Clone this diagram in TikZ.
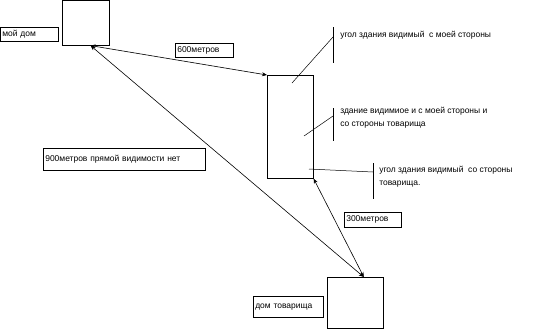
\documentclass[tikz,border=0pt]{standalone}
\usepackage{fontspec}
\setmainfont{Liberation Sans}
\usetikzlibrary{arrows.meta,calc}
\begin{document}
\begin{tikzpicture}[x=1bp,y=-1bp, line width=0.6pt,
  square/.style={draw, anchor=north west, inner sep=0pt},
  lbl/.style={draw, anchor=north west, inner xsep=2bp, inner ysep=0pt, align=left,
    font=\fontsize{8.5}{12}\selectfont},
  note/.style={align=left, inner sep=0pt, font=\fontsize{8.5}{12.5}\selectfont},
  dist/.style={{Stealth[length=5pt,width=4pt]}-{Stealth[length=5pt,width=4pt]}},
  thin/.style={line width=0.5pt}]
\useasboundingbox (0,0) rectangle (541,329);
% houses and building
\node[square, minimum width=47bp, minimum height=45bp] (myhouse) at (62,0) {};
\node[square, minimum width=46bp, minimum height=103bp] (bldg) at (267,75) {};
\node[square, minimum width=56bp, minimum height=51bp] (friend) at (327,277) {};
% label boxes
\node[lbl, text width=54bp, minimum height=14bp] (lmy) at (0,27) {мой дом};
\node[lbl, text width=54bp, minimum height=14bp] (l600) at (175,43) {600метров};
\node[lbl, text width=158bp, minimum height=22bp] (l900) at (43,148) {900метров прямой видимости нет};
\node[lbl, text width=53bp, minimum height=15bp] (l300) at (344,212) {300метров};
\node[lbl, text width=66bp, minimum height=21bp] (lfr) at (253,296) {дом товарища};
% distance connectors
\coordinate (pm) at ($(myhouse.south west)!0.6!(myhouse.south east)$);
\coordinate (pf) at ($(friend.north west)!0.65!(friend.north east)$);
\draw[dist] (pm) -- (bldg.north west);
\draw[dist] (pm) -- (pf);
\draw[dist] (bldg.south east) -- (pf);
% callouts
\node[note, anchor=west] (n1) at (340,35) {угол здания видимый \ с моей стороны};
\node[note, anchor=north west] (n2) at (340,107) {здание видимиое и с моей стороны и\\со стороны товарища};
\node[note, anchor=north west] (n3) at (379,166) {угол здания видимый \ со стороны\\товарища.};
\coordinate (b1t) at (333,27); \coordinate (b1b) at (333,63);
\coordinate (b2t) at (333,108); \coordinate (b2b) at (333,141);
\coordinate (b3t) at (373,163); \coordinate (b3b) at (373,199);
\draw[thin] (b1t) -- (b1b);
\draw[thin] (292,83) -- (333,37);
\draw[thin] (b2t) -- (b2b);
\draw[thin] (304,136) -- (333,116);
\draw[thin] (b3t) -- (b3b);
\draw[thin] (309,169) -- (373,172);
\end{tikzpicture}
\end{document}
